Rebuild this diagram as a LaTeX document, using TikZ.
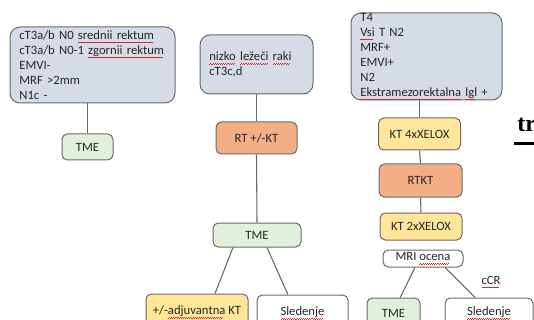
\documentclass[tikz,border=0pt]{standalone}
\usepackage{fontspec}
\setmainfont{Carlito}
\newfontfamily\headfont{Liberation Serif}
\definecolor{spellred}{HTML}{E0262A}
\newcommand\spell[1]{\setbox0=\hbox{#1}\leavevmode\rlap{\textcolor{spellred}{\lower2.8pt\hbox to \wd0{\leaders\hbox to 1.6pt{\vrule width .8pt height .5pt depth 0pt\raise.5pt\hbox{\vrule width .8pt height .5pt depth 0pt}}\hfill}}}\box0\relax}

\definecolor{stagefill}{HTML}{D6DCE5}
\definecolor{tmegreen}{HTML}{E2EFDA}
\definecolor{rtorange}{HTML}{F4AE85}
\definecolor{ktyellow}{HTML}{FFE699}
\definecolor{bordergray}{HTML}{6A6A6A}
\definecolor{linegray}{HTML}{666666}

\begin{document}
\begin{tikzpicture}[x=0.75pt,y=-0.75pt,
  every node/.style={font=\fontsize{9.5}{11.25}\selectfont, text=black!85},
  stage/.style={draw=bordergray, line width=0.75pt, rounded corners=7.5pt, fill=stagefill, align=left, inner xsep=7pt, inner ysep=0pt},
  act/.style={draw=bordergray, line width=0.75pt, rounded corners=4pt, inner sep=0pt},
  tmebox/.style={act, fill=tmegreen},
  rtbox/.style={act, fill=rtorange},
  ktbox/.style={act, fill=ktyellow},
  plainbox/.style={act, fill=white},
  link/.style={draw=linegray, line width=0.8pt}]

\useasboundingbox (0,0) rectangle (534,320);
\clip (0,0) rectangle (534,320);

% left column
\node[stage, text width=109.75pt, minimum height=57pt] (stageA) at (92.5,65)
  {cT3a/b N0 \spell{srednii rektum}\\ cT3a/b N0-1 \spell{zgornii rektum}\\ EMVI-\\ MRF >2mm\\ N1c -};
\node[tmebox, minimum width=38.25pt, minimum height=19.5pt] (tmeA) at (87.5,147) {TME};

% middle column
\node[stage, text width=70.75pt, minimum height=44.25pt] (stageB) at (256.5,64.5)
  {\spell{nizko} \spell{ležeči} \spell{raki}\\ cT3c,d};
\node[rtbox, minimum width=60.75pt, minimum height=24pt] (rtB) at (256.5,138) {RT +/-KT};
\node[tmebox, minimum width=66pt, minimum height=18pt] (tmeB) at (257,235) {TME};
\node[ktbox, minimum width=76.5pt, minimum height=27pt] (adjB) at (197,312) {+/-\spell{adjuvantna} KT};
\node[plainbox, minimum width=68.25pt, minimum height=27pt] (sledB) at (302.5,313) {\spell{Sledenje}};

% right column
\node[stage, text width=99.25pt, minimum height=65.25pt] (stageC) at (426.5,56.5)
  {T4\\ \spell{Vsi} T N2\\ MRF+\\ EMVI+\\ N2\\ \spell{Ekstramezorektalna} \spell{lgl} +};
\node[ktbox, minimum width=61.5pt, minimum height=24pt] (ktC) at (419.5,134) {KT 4xXELOX};
\node[rtbox, minimum width=62.25pt, minimum height=24.75pt] (rtktC) at (420.5,180.5) {RTKT};
\node[ktbox, minimum width=61.5pt, minimum height=20.25pt] (kttwoC) at (421,226.5) {KT 2xXELOX};
\node[plainbox, minimum width=60pt, minimum height=12.75pt] (mriC) at (423,258.5) {MRI \spell{ocena}};
\node[tmebox, minimum width=39.75pt, minimum height=22.5pt] (tmeC) at (393.5,313) {TME};
\node[plainbox, minimum width=66pt, minimum height=22.5pt] (sledC) at (489,313) {\spell{Sledenje}};
\node (ccr) at (491,282) {\spell{cCR}};

% cut heading at the right edge
\node[font=\headfont\bfseries\fontsize{18}{20}\selectfont, text=black, anchor=base west, inner sep=0pt] (head) at (517,132) {tr};
\fill[black] (514,142.5) rectangle (534,145.5);

% connectors
\draw[link] (stageA.south -| tmeA.north) -- (tmeA.north);
\draw[link] (stageB.south) -- (rtB.north);
\draw[link] (rtB.south) -- (tmeB.north);
\draw[link] ([xshift=-18pt]tmeB.south) -- ([xshift=13.5pt]adjB.north);
\draw[link] ([xshift=7.5pt]tmeB.south) -- ([xshift=-11pt]sledB.north);
\draw[link] (stageC.south -| ktC.north) -- (ktC.north);
\draw[link] (ktC.south) -- (rtktC.north);
\draw[link] (rtktC.south) -- (kttwoC.north);
\draw[link] ([xshift=-6pt]mriC.south) -- ([xshift=5pt]tmeC.north);
\draw[link] ([xshift=16.5pt]mriC.south) -- ([xshift=-10.5pt]sledC.north);

\end{tikzpicture}
\end{document}
